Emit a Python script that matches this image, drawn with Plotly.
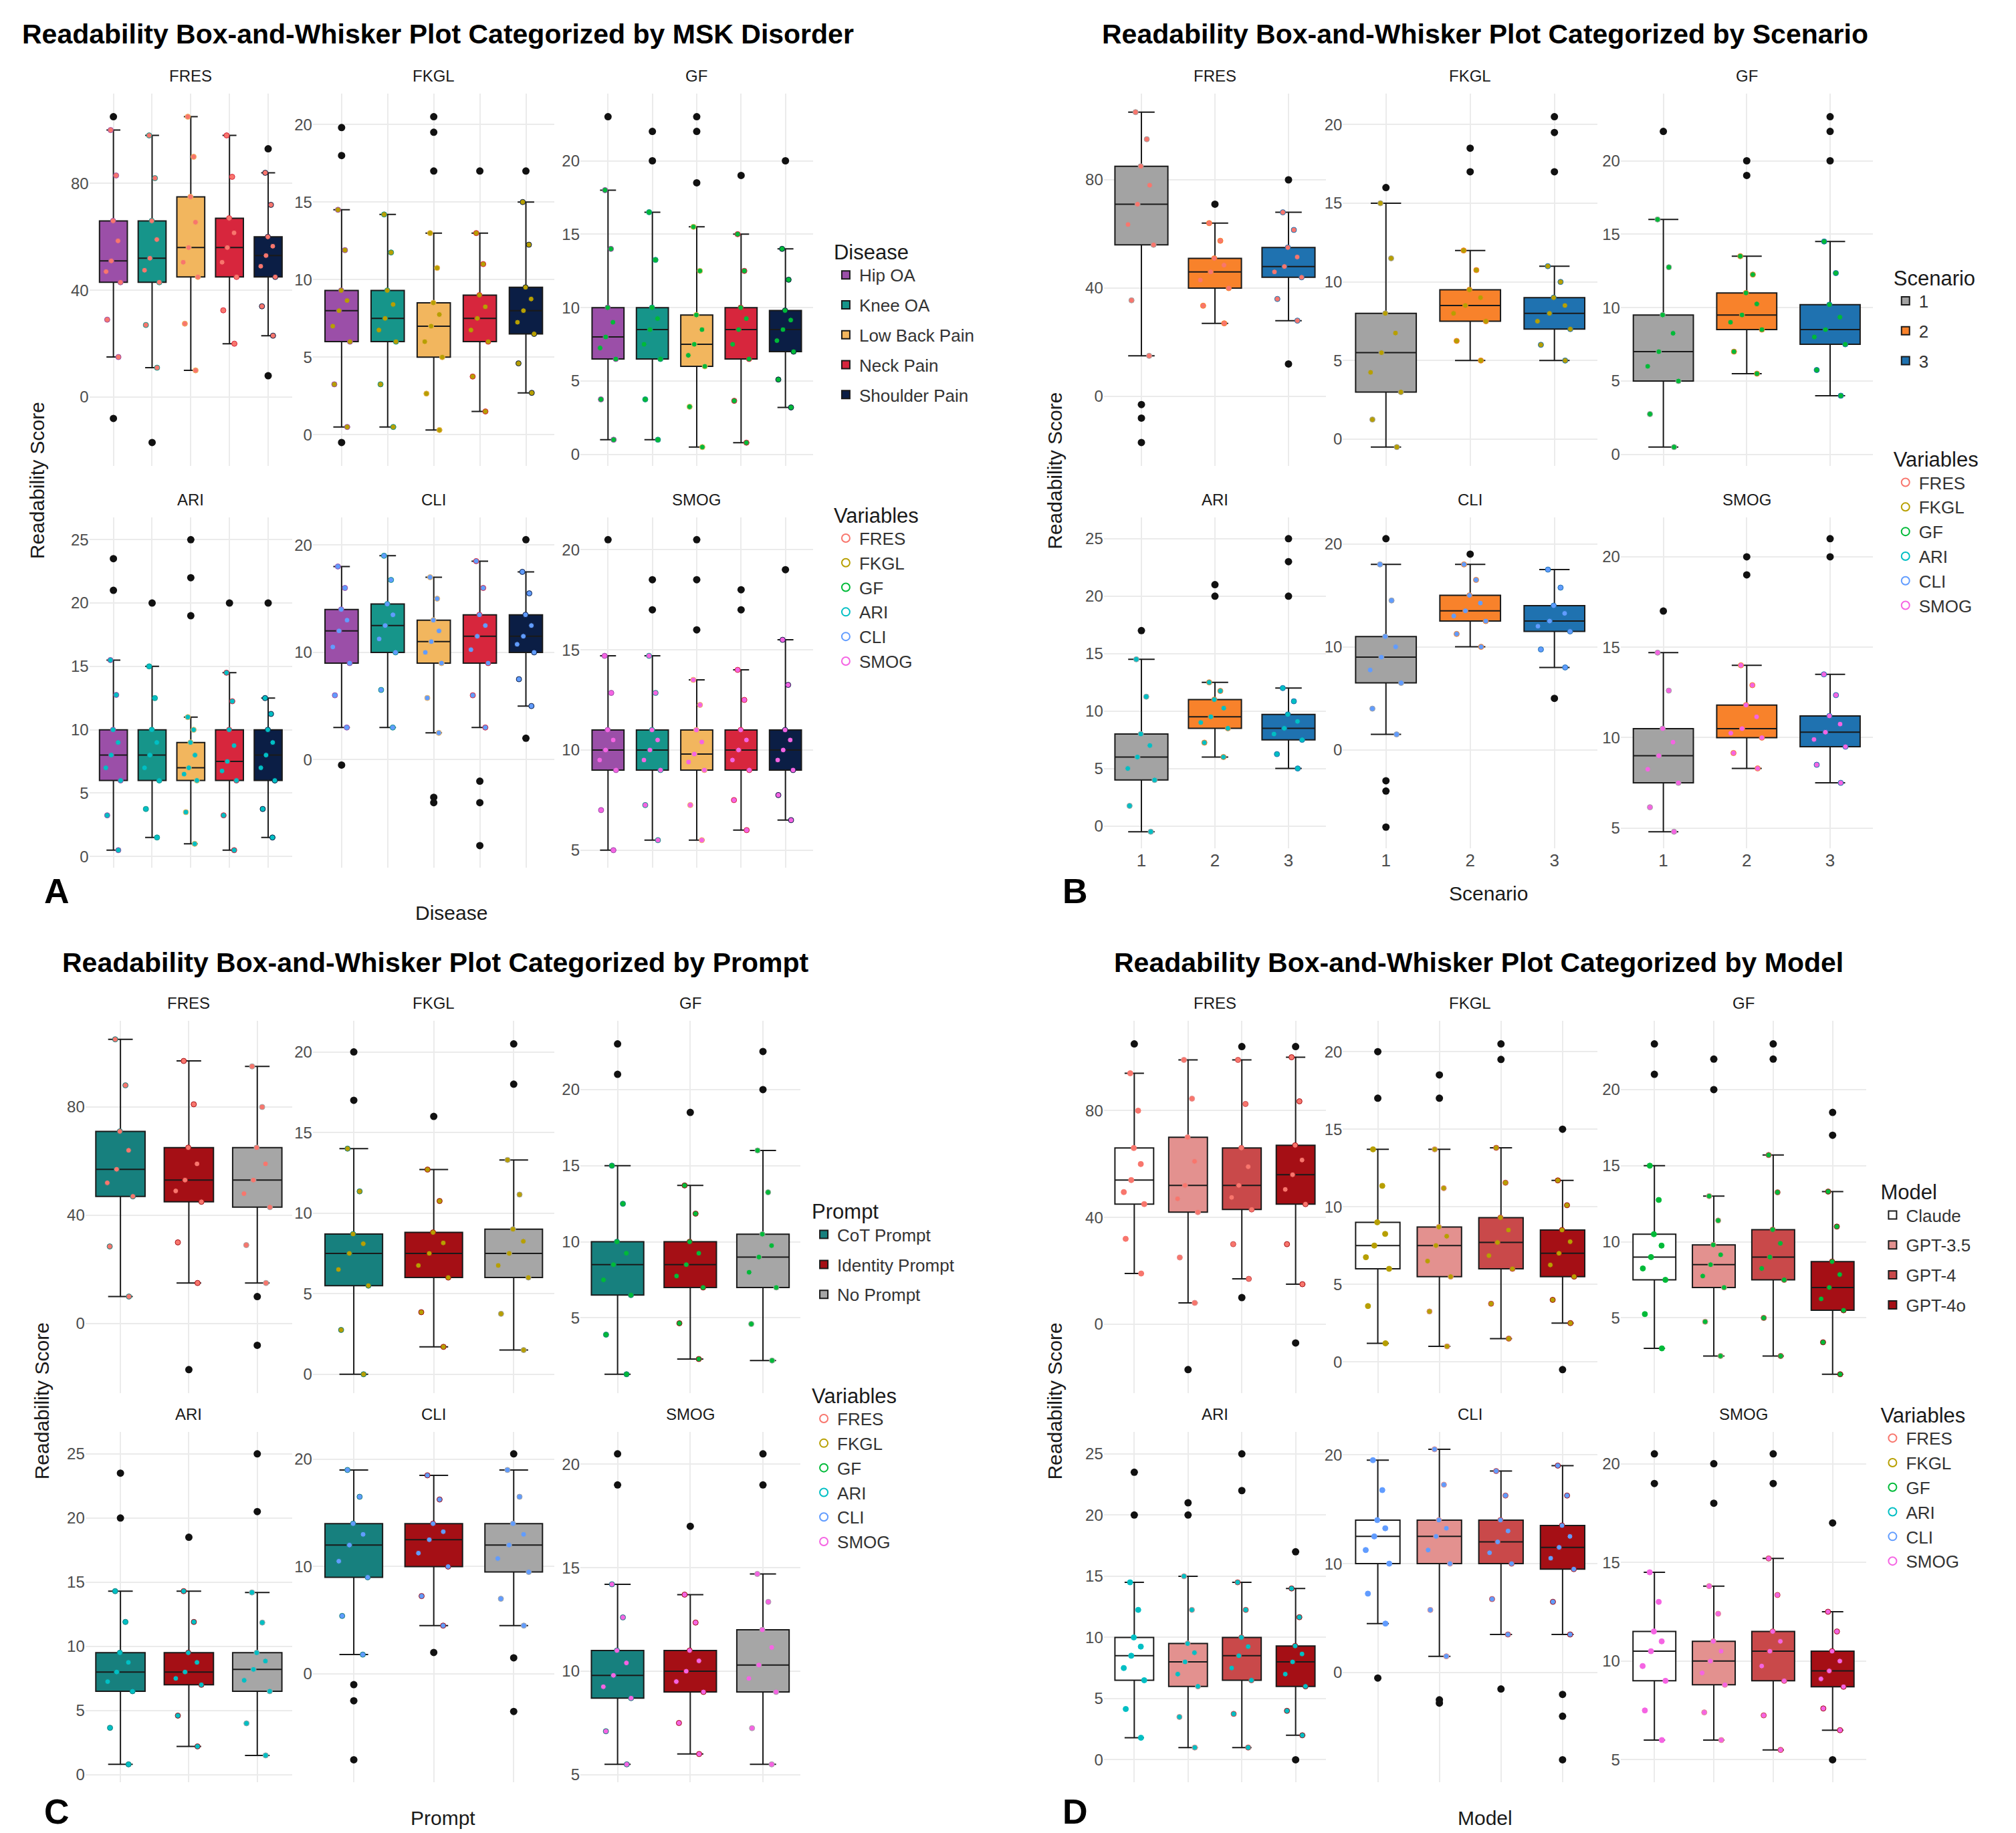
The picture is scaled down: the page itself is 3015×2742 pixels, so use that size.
import plotly.graph_objects as go

W, H = 3015, 2742
DW, DH = 1560.0, 1412.0

VARS = ["FRES", "FKGL", "GF", "ARI", "CLI", "SMOG"]
VAR_COLORS = {"FRES": "#F8766D", "FKGL": "#B79F00", "GF": "#00BA38",
              "ARI": "#00BFC4", "CLI": "#619CFF", "SMOG": "#F564E3"}
VAR_TICKS = {"FRES": [0, 40, 80], "FKGL": [0, 5, 10, 15, 20], "GF": [0, 5, 10, 15, 20],
             "ARI": [0, 5, 10, 15, 20, 25], "CLI": [0, 10, 20], "SMOG": [5, 10, 15, 20]}

# ---- Panel A: Disease ----
disease_groups = ["Hip OA", "Knee OA", "Low Back Pain", "Neck Pain", "Shoulder Pain"]
disease_colors = ["#9B4FA8", "#16958A", "#F2B65E", "#D7263D", "#0B1E45"]
# [lower whisker, q1, median, q3, upper whisker]
disease_stats = {
    "FRES": [[15, 43, 51, 66, 100], [11, 43, 52, 66, 98], [10, 45, 56, 75, 105], [20, 45, 56, 67, 98], [23, 45, 53, 60, 84]],
    "FKGL": [[0.5, 6, 8, 9.3, 14.5], [0.5, 6, 7.5, 9.3, 14.2], [0.3, 5, 7, 8.5, 13], [1.5, 6, 7.5, 9, 13], [2.7, 6.5, 8, 9.5, 15]],
    "GF":   [[1, 6.5, 8, 10, 18], [1, 6.5, 8.5, 10, 16.5], [0.5, 6, 7.5, 9.5, 15.5], [0.8, 6.5, 8.5, 10, 15], [3.2, 7, 8.5, 9.8, 14]],
    "ARI":  [[0.5, 6, 8, 10, 15.5], [1.5, 6, 8, 10, 15], [1, 6, 7, 9, 11], [0.5, 6, 7.5, 10, 14.5], [1.5, 6, 8, 10, 12.5]],
    "CLI":  [[3, 9, 12, 14, 18], [3, 10, 12.5, 14.5, 19], [2.5, 9, 11, 13, 17], [3, 9, 11.5, 13.5, 18.5], [5, 10, 11.5, 13.5, 17.5]],
    "SMOG": [[5, 9, 10, 11, 14.7], [5.5, 9, 10, 11, 14.7], [5.5, 9, 9.8, 11, 13.5], [6, 9, 10, 11, 14], [6.5, 9, 10, 11, 15.5]],
}
disease_out = {
    "FRES": [[-8, 105], [-17], [], [], [93, 8]],
    "FKGL": [[19.8, 18, -0.5], [], [20.5, 19.5, 17], [17], [17]],
    "GF":   [[23], [22, 20], [23, 22, 18.5], [19], [20]],
    "ARI":  [[23.5, 21], [20], [25, 22, 19], [20], [20]],
    "CLI":  [[-0.5], [], [-3.5, -4], [-2, -4, -8], [20.5, 2]],
    "SMOG": [[20.5], [18.5, 17], [20.5, 18.5, 16], [17, 18], [19]],
}

# ---- Panel B: Scenario ----
scenario_groups = ["1", "2", "3"]
scenario_colors = ["#A3A3A3", "#F8822B", "#1F72B0"]
scenario_stats = {
    "FRES": [[15, 56, 71, 85, 105], [27, 40, 46, 51, 64], [28, 44, 48, 55, 68]],
    "FKGL": [[-0.5, 3, 5.5, 8, 15], [5, 7.5, 8.5, 9.5, 12], [5, 7, 8, 9, 11]],
    "GF":   [[0.5, 5, 7, 9.5, 16], [5.5, 8.5, 9.5, 11, 13.5], [4, 7.5, 8.5, 10.2, 14.5]],
    "ARI":  [[-0.5, 4, 6, 8, 14.5], [6, 8.5, 9.5, 11, 12.5], [5, 7.5, 8.5, 9.7, 12]],
    "CLI":  [[1.5, 6.5, 9, 11, 18], [10, 12.5, 13.5, 15, 18], [8, 11.5, 12.5, 14, 17.5]],
    "SMOG": [[4.8, 7.5, 9, 10.5, 14.7], [8.3, 10, 10.5, 11.8, 14], [7.5, 9.5, 10.3, 11.2, 13.5]],
}
scenario_out = {
    "FRES": [[-8, -17, -3], [71], [80, 12]],
    "FKGL": [[16], [18.5, 17], [20.5, 19.5, 17]],
    "GF":   [[22], [20, 19], [23, 22, 20]],
    "ARI":  [[17], [21, 20], [25, 23, 20]],
    "CLI":  [[-3, -4, -7.5, 20.5], [19], [5]],
    "SMOG": [[17], [20, 19], [21, 20]],
}

# ---- Panel C: Prompt ----
prompt_groups = ["CoT Prompt", "Identity Prompt", "No Prompt"]
prompt_colors = ["#17807E", "#A50F15", "#A6A6A6"]
prompt_stats = {
    "FRES": [[10, 47, 57, 71, 105], [15, 45, 53, 65, 97], [15, 43, 53, 65, 95]],
    "FKGL": [[0, 5.5, 7.5, 8.7, 14], [1.7, 6, 7.5, 8.8, 12.7], [1.5, 6, 7.5, 9, 13.3]],
    "GF":   [[1.3, 6.5, 8.5, 10, 15], [2.3, 7, 8.5, 10, 13.7], [2.2, 7, 9, 10.5, 16]],
    "ARI":  [[0.8, 6.5, 8, 9.5, 14.3], [2.2, 7, 8, 9.5, 14.3], [1.5, 6.5, 8.2, 9.5, 14.2]],
    "CLI":  [[1.8, 9, 12, 14, 19], [4.5, 10, 12.5, 14, 18.5], [4.5, 9.5, 12, 14, 19]],
    "SMOG": [[5.5, 8.7, 9.8, 11, 14.2], [6, 9, 10, 11, 13.7], [5.5, 9, 10.3, 12, 14.7]],
}
prompt_out = {
    "FRES": [[], [-17], [10, -8]],
    "FKGL": [[20, 17], [16], [20.5, 18]],
    "GF":   [[23, 21], [18.5], [22.5, 20]],
    "ARI":  [[23.5, 20], [18.5], [25, 20.5]],
    "CLI":  [[-1, -2.5, -8], [2], [1.5, -3.5, 20.5]],
    "SMOG": [[20.5, 19], [17], [20.5, 19]],
}

# ---- Panel D: Model ----
model_groups = ["Claude", "GPT-3.5", "GPT-4", "GPT-4o"]
model_colors = ["#FFFFFF", "#E3918F", "#C9494A", "#A50F15"]
model_stats = {
    "FRES": [[19, 45, 54, 66, 94], [8, 42, 52, 70, 99], [17, 43, 52, 66, 99], [15, 45, 56, 67, 100]],
    "FKGL": [[1.2, 6, 7.5, 9, 13.7], [1, 5.5, 7.5, 8.7, 13.7], [1.5, 6, 7.7, 9.3, 13.8], [2.5, 5.5, 7, 8.5, 11.7]],
    "GF":   [[3, 7.5, 9, 10.5, 15], [2.5, 7, 8.5, 9.8, 13], [2.5, 7.5, 9, 10.8, 15.7], [1.3, 5.5, 7, 8.7, 13.3]],
    "ARI":  [[1.8, 6.5, 8.5, 10, 14.5], [1, 6, 8, 9.5, 15], [1, 6.5, 8.5, 10, 14.5], [2, 6, 8, 9.3, 14]],
    "CLI":  [[4.5, 10, 12.5, 14, 19.5], [1.5, 10, 12.5, 14, 20.5], [3.5, 10, 12, 14, 18.5], [3.5, 9.5, 11.5, 13.5, 19]],
    "SMOG": [[6, 9, 10.5, 11.5, 14.5], [6, 8.8, 10, 11, 13.8], [5.5, 9, 10.5, 11.5, 15.2], [6.5, 8.7, 9.5, 10.5, 12.5]],
}
model_out = {
    "FRES": [[105], [-17], [10, 104], [-7, 104]],
    "FKGL": [[20, 17], [18.5, 17], [20.5, 19.5], [15, -0.5]],
    "GF":   [[23, 21], [22, 20], [23, 22], [18.5, 17]],
    "ARI":  [[23.5, 20], [21, 20], [25, 22], [17, 0]],
    "CLI":  [[-0.5], [-2.5, -2.8], [-1.5], [-2, -4, -8]],
    "SMOG": [[20.5, 19], [20, 18], [20.5, 19], [17, 5]],
}

PANELS = [
    dict(letter="A", title="Readability Box-and-Whisker Plot Categorized by MSK Disorder", title_x=12, title_anchor="left",
         xlab="Disease", groups=disease_groups, colors=disease_colors, stats=disease_stats, out=disease_out,
         cols=[(65, 222), (238, 425), (445, 625)], rows=[(68, 355), (395, 665)], ticklabels=False,
         legtitle="Disease", leg1=(640, 175), leg2=(640, 378), ylab_x=25, xlab_y=700, letter_xy=(40, 683)),
    dict(letter="B", title="Readability Box-and-Whisker Plot Categorized by Scenario", title_x=1145, title_anchor="center",
         xlab="Scenario", groups=scenario_groups, colors=scenario_colors, stats=scenario_stats, out=scenario_out,
         cols=[(850, 1022), (1035, 1232), (1250, 1445)], rows=[(68, 355), (395, 650)], ticklabels=True,
         legtitle="Scenario", leg1=(1460, 195), leg2=(1460, 335), ylab_x=812, xlab_y=685, letter_xy=(828, 683)),
    dict(letter="C", title="Readability Box-and-Whisker Plot Categorized by Prompt", title_x=333, title_anchor="center",
         xlab="Prompt", groups=prompt_groups, colors=prompt_colors, stats=prompt_stats, out=prompt_out,
         cols=[(62, 222), (238, 425), (445, 615)], rows=[(783, 1070), (1100, 1370)], ticklabels=False,
         legtitle="Prompt", leg1=(623, 915), leg2=(623, 1057), ylab_x=28, xlab_y=1398, letter_xy=(40, 1393)),
    dict(letter="D", title="Readability Box-and-Whisker Plot Categorized by Model", title_x=1140, title_anchor="center",
         xlab="Model", groups=model_groups, colors=model_colors, stats=model_stats, out=model_out,
         cols=[(850, 1022), (1035, 1232), (1250, 1440)], rows=[(783, 1070), (1100, 1370)], ticklabels=False,
         legtitle="Model", leg1=(1450, 900), leg2=(1450, 1072), ylab_x=812, xlab_y=1398, letter_xy=(828, 1393)),
]

fig = go.Figure()
layout = dict(width=W, height=H, paper_bgcolor="white", plot_bgcolor="white",
              margin=dict(l=0, r=0, t=0, b=0), boxmode="overlay",
              font=dict(family="Liberation Sans, Arial", size=24, color="#333333"))
annotations = []

def fx(x):
    return x / DW

def fy(y):
    return 1 - y / DH

k = 0
for pi, P in enumerate(PANELS):
    leg_a = "legend" if pi == 0 else f"legend{2*pi+1}"
    leg_b = f"legend{2*pi+2}"
    for vi, var in enumerate(VARS):
        k += 1
        r, c = divmod(vi, 3)
        xs = "" if k == 1 else str(k)
        x0, x1 = P["cols"][c]
        y0, y1 = P["rows"][r]
        layout["xaxis" + xs] = dict(domain=[fx(x0), fx(x1)], anchor="y" + xs, type="category",
                                    categoryorder="array", categoryarray=P["groups"],
                                    showticklabels=P["ticklabels"] and r == 1, ticks="",
                                    gridcolor="#EBEBEB", gridwidth=2, showline=False, zeroline=False,
                                    tickfont=dict(size=26, color="#4D4D4D"))
        layout["yaxis" + xs] = dict(domain=[fy(y1), fy(y0)], anchor="x" + xs,
                                    tickvals=VAR_TICKS[var], gridcolor="#EBEBEB", gridwidth=2,
                                    zeroline=False, showline=False, ticks="",
                                    tickfont=dict(size=24, color="#4D4D4D"))
        annotations.append(dict(text=var, x=(fx(x0) + fx(x1)) / 2, y=fy(y0) + 0.004, xref="paper", yref="paper",
                                xanchor="center", yanchor="bottom", showarrow=False,
                                font=dict(size=24, color="#1A1A1A")))
        for gi, g in enumerate(P["groups"]):
            lo, q1, med, q3, hi = P["stats"][var][gi]
            fig.add_trace(go.Box(x=[g], q1=[q1], median=[med], q3=[q3], lowerfence=[lo], upperfence=[hi],
                                 name=g, legendgroup=f"{P['letter']}{g}", legend=leg_a,
                                 showlegend=(vi == 0), fillcolor=P["colors"][gi],
                                 line=dict(color="#1A1A1A", width=2), width=0.72, boxpoints=False,
                                 xaxis="x" + xs, yaxis="y" + xs,
                                 marker=dict(color=P["colors"][gi], line=dict(color="#333", width=1.5))))
            pts = [lo, q1, med, q3, hi, (lo + q1) / 2, (q3 + hi) / 2, (q1 + med) / 2, (med + q3) / 2]
            edge = P["colors"][gi] if P["colors"][gi] != "#FFFFFF" else VAR_COLORS[var]
            fig.add_trace(go.Box(x=[g] * len(pts), y=pts, boxpoints="all", jitter=0.7, pointpos=0,
                                 fillcolor="rgba(0,0,0,0)", line=dict(color="rgba(0,0,0,0)", width=0),
                                 marker=dict(color=VAR_COLORS[var], size=8, line=dict(color=edge, width=1)),
                                 showlegend=False, width=0.72, xaxis="x" + xs, yaxis="y" + xs, hoveron="points"))
            o = P["out"][var][gi]
            if o:
                fig.add_trace(go.Scatter(x=[g] * len(o), y=o, mode="markers",
                                         marker=dict(color="#111111", size=11),
                                         showlegend=False, xaxis="x" + xs, yaxis="y" + xs))
    ref = "" if k - 5 == 1 else str(k - 5)
    for var in VARS:
        fig.add_trace(go.Scatter(x=[None], y=[None], mode="markers", name=var, legend=leg_b,
                                 marker=dict(symbol="circle-open", color=VAR_COLORS[var], size=12, line=dict(width=2)),
                                 xaxis="x" + ref, yaxis="y" + ref))
    lx, ly = P["leg1"]
    layout[leg_a] = dict(x=fx(lx), y=fy(ly), xanchor="left", yanchor="top", bgcolor="rgba(0,0,0,0)",
                         title=dict(text=P["legtitle"], font=dict(size=31, color="#1A1A1A")),
                         font=dict(size=26, color="#333"), tracegroupgap=8, itemsizing="constant")
    lx, ly = P["leg2"]
    layout[leg_b] = dict(x=fx(lx), y=fy(ly), xanchor="left", yanchor="top", bgcolor="rgba(0,0,0,0)",
                         title=dict(text="Variables", font=dict(size=31, color="#1A1A1A")),
                         font=dict(size=26, color="#333"), tracegroupgap=8, itemsizing="constant")
    ty = 22 if pi < 2 else 738
    annotations.append(dict(text=f"<b>{P['title']}</b>", x=fx(P["title_x"]), y=fy(ty), xref="paper", yref="paper",
                            xanchor=P["title_anchor"], yanchor="middle", showarrow=False,
                            font=dict(size=41, color="#000")))
    cx0 = fx(P["cols"][0][0]); cx1 = fx(P["cols"][2][1])
    annotations.append(dict(text=P["xlab"], x=(cx0 + cx1) / 2, y=fy(P["xlab_y"]), xref="paper", yref="paper",
                            xanchor="center", yanchor="middle", showarrow=False, font=dict(size=30, color="#1A1A1A")))
    ymid = (P["rows"][0][0] + P["rows"][1][1]) / 2
    annotations.append(dict(text="Readability Score", x=fx(P["ylab_x"]), y=fy(ymid), xref="paper", yref="paper",
                            textangle=-90, xanchor="center", yanchor="middle", showarrow=False,
                            font=dict(size=30, color="#1A1A1A")))
    annotations.append(dict(text=f"<b>{P['letter']}</b>", x=fx(P["letter_xy"][0]), y=fy(P["letter_xy"][1]),
                            xref="paper", yref="paper", xanchor="center", yanchor="middle", showarrow=False,
                            font=dict(size=52, color="#000")))

layout["annotations"] = annotations
fig.update_layout(**layout)
fig.write_html("out.html")
